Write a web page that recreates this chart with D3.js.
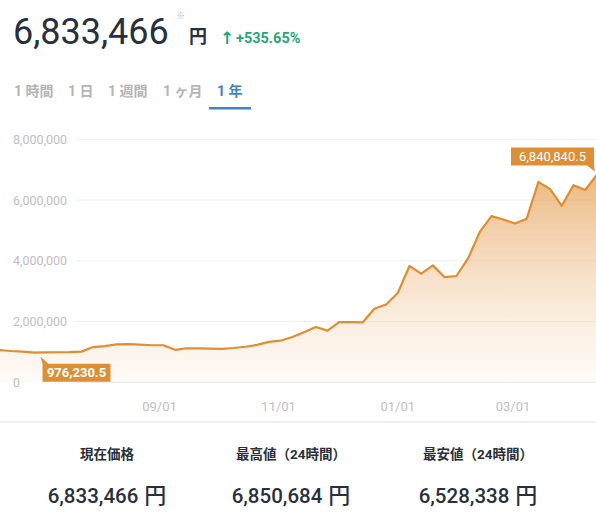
<!DOCTYPE html>
<html>
<head>
<meta charset="utf-8">
<script src="https://cdn.jsdelivr.net/npm/d3@7"></script>
<style>
  body { margin: 0; background: #fff; }
  svg { display: block; font-family: Roboto, "Noto Sans CJK JP", sans-serif; }
</style>
</head>
<body>
<script>
// price series, one point every 6 days
var dates = ["2020-06-11","2020-06-17","2020-06-23","2020-06-29","2020-07-05","2020-07-11","2020-07-17","2020-07-23",
  "2020-07-29","2020-08-04","2020-08-10","2020-08-16","2020-08-22","2020-08-28","2020-09-03","2020-09-09",
  "2020-09-15","2020-09-21","2020-09-27","2020-10-03","2020-10-09","2020-10-15","2020-10-21","2020-10-27",
  "2020-11-02","2020-11-08","2020-11-14","2020-11-20","2020-11-26","2020-12-02","2020-12-08","2020-12-14",
  "2020-12-20","2020-12-26","2021-01-01","2021-01-07","2021-01-13","2021-01-19","2021-01-25","2021-01-31",
  "2021-02-06","2021-02-12","2021-02-18","2021-02-24","2021-03-02","2021-03-08","2021-03-14","2021-03-20",
  "2021-03-26","2021-04-01","2021-04-07","2021-04-13"];
var prices = [1062000,1030000,1010000,976230.5,985000,990000,992000,1010000,
  1160000,1190000,1250000,1260000,1240000,1220000,1220000,1070000,
  1120000,1120000,1110000,1100000,1130000,1170000,1230000,1330000,
  1370000,1490000,1650000,1820000,1700000,1980000,1980000,1970000,
  2420000,2560000,2940000,3830000,3580000,3850000,3460000,3500000,
  4080000,4950000,5470000,5360000,5230000,5380000,6600000,6360000,
  5810000,6490000,6330000,6840840.5];

var yTicks = [0, 2000000, 4000000, 6000000, 8000000];
var xTickDates = ["2020-09-01","2020-11-01","2021-01-01","2021-03-01"];
var xTickLabels = ["09/01","11/01","01/01","03/01"];

var tabs = ["1 時間","1 日","1 週間","1 ヶ月","1 年"];
var statLabels = ["現在価格","最高値（24時間）","最安値（24時間）"];
var statValues = ["6,833,466","6,850,684","6,528,338"];

var parse = d3.timeParse("%Y-%m-%d");
var data = dates.map(function(d, i){ return {date: parse(d), value: prices[i]}; });

var width = 596, height = 513;
var svg = d3.select("body").append("svg").attr("width", width).attr("height", height);

// header
svg.append("text").attr("x", 13).attr("y", 44).attr("font-size", 36)
  .attr("fill", "#27303d").text("6,833,466");
svg.append("text").attr("x", 176).attr("y", 19).attr("font-size", 9)
  .attr("fill", "#a9bccd").text("※");
svg.append("text").attr("x", 189).attr("y", 43).attr("font-size", 18).attr("font-weight", 700)
  .attr("fill", "#27303d").text("円");
svg.append("text").attr("x", 220).attr("y", 44).attr("font-size", 17).attr("font-weight", 700)
  .attr("font-family", "DejaVu Sans").attr("fill", "#1fa776").text("↑");
svg.append("text").attr("x", 236).attr("y", 43).attr("font-size", 14.5).attr("font-weight", 700)
  .attr("fill", "#1fa776").text("+535.65%");

// period tabs
var tabX = [14, 68, 108, 163, 217];
svg.append("g").selectAll("text").data(tabs).enter().append("text")
  .attr("x", function(d, i){ return tabX[i]; })
  .attr("y", 96)
  .attr("font-size", 14)
  .attr("font-weight", 700)
  .attr("fill", function(d, i){ return i == 4 ? "#3c85c9" : "#b4b4b4"; })
  .text(function(d){ return d; });
svg.append("rect").attr("x", 209).attr("y", 107).attr("width", 42).attr("height", 2.5).attr("fill", "#3c85c9");

// scales
var x = d3.scaleTime()
  .domain([parse("2020-09-01"), parse("2021-03-01")])
  .range([159.5, 513]);
var y = d3.scaleLinear().domain([0, 8000000]).range([382.3, 139.3]);

// grid + y labels
var grid = svg.append("g");
grid.selectAll("line").data(yTicks).enter().append("line")
  .attr("x1", 76).attr("x2", width)
  .attr("y1", function(d){ return y(d); }).attr("y2", function(d){ return y(d); })
  .attr("stroke", function(d){ return d == 0 ? "#e6e6e6" : "#efefef"; })
  .attr("stroke-width", 1);
grid.selectAll("text").data(yTicks).enter().append("text")
  .attr("x", 13)
  .attr("y", function(d){ return y(d) + 4.5; })
  .attr("font-size", 12.5)
  .attr("fill", "#c2bec2")
  .text(function(d){ return d3.format(",")(d); });

// x labels
svg.append("g").selectAll("text").data(xTickDates).enter().append("text")
  .attr("x", function(d){ return x(parse(d)); })
  .attr("y", 411)
  .attr("text-anchor", "middle")
  .attr("font-size", 13)
  .attr("fill", "#c2bec2")
  .text(function(d, i){ return xTickLabels[i]; });

// gradient
var defs = svg.append("defs");
var grad = defs.append("linearGradient").attr("id", "fillGrad")
  .attr("gradientUnits", "userSpaceOnUse")
  .attr("x1", 0).attr("x2", 0).attr("y1", y(6840840)).attr("y2", y(0));
grad.append("stop").attr("offset", "0%").attr("stop-color", "#df8d32").attr("stop-opacity", 0.62);
grad.append("stop").attr("offset", "100%").attr("stop-color", "#f2c89c").attr("stop-opacity", 0.08);
defs.append("clipPath").attr("id", "plotClip").append("rect")
  .attr("x", 0).attr("y", 0).attr("width", width).attr("height", y(0));

var plot = svg.append("g").attr("clip-path", "url(#plotClip)");
plot.append("path").datum(data)
  .attr("fill", "url(#fillGrad)")
  .attr("d", d3.area().x(function(d){ return x(d.date); }).y0(y(0)).y1(function(d){ return y(d.value); }));
plot.append("path").datum(data)
  .attr("fill", "none")
  .attr("stroke", "#e08e30")
  .attr("stroke-width", 2.2)
  .attr("stroke-linejoin", "round")
  .attr("d", d3.line().x(function(d){ return x(d.date); }).y(function(d){ return y(d.value); }));

// callouts
var fmt = d3.format(",.1f");
var last = data[data.length - 1];
var minPt = data[d3.minIndex(data, function(d){ return d.value; })];

var lx = x(last.date), ly = y(last.value);
var bw = 83, bh = 18, br = lx - 3, bt = ly - 27;
svg.append("path").attr("fill", "#df8f33")
  .attr("d", "M" + (br - bw) + "," + bt + "h" + bw + "v" + bh + "l1,6" + "l-8,-6" + "h" + (-(bw - 7)) + "z");
svg.append("text").attr("x", br - bw / 2).attr("y", bt + 13.5).attr("text-anchor", "middle")
  .attr("font-size", 13).attr("fill", "#fff").text(fmt(last.value));

var mx = x(minPt.date), my = y(minPt.value);
var mw = 68, mh = 18, ml = mx + 8, mt = my + 11;
svg.append("path").attr("fill", "#df8f33")
  .attr("d", "M" + ml + "," + mt + "l-2,-7" + "l8,7" + "h" + (mw - 6) + "v" + mh + "h" + (-mw) + "z");
svg.append("text").attr("x", ml + mw / 2).attr("y", mt + 13.5).attr("text-anchor", "middle")
  .attr("font-size", 13).attr("font-weight", 700).attr("fill", "#fff").text(fmt(minPt.value));

// bottom stats
svg.append("rect").attr("x", 0).attr("y", 421).attr("width", width).attr("height", 2).attr("fill", "#efefef");
var colX = [107, 291, 478];
var stats = svg.append("g");
stats.selectAll("text.lbl").data(statLabels).enter().append("text").attr("class", "lbl")
  .attr("x", function(d, i){ return colX[i]; })
  .attr("y", 459)
  .attr("text-anchor", "middle")
  .attr("font-size", 13.5)
  .attr("font-weight", 700)
  .attr("fill", "#2a2f38")
  .text(function(d){ return d; });
var vals = stats.selectAll("text.val").data(statValues).enter().append("text").attr("class", "val")
  .attr("x", function(d, i){ return colX[i]; })
  .attr("y", 503)
  .attr("text-anchor", "middle")
  .attr("font-size", 20.5)
  .attr("font-weight", 500)
  .attr("fill", "#27303d");
vals.append("tspan").text(function(d){ return d; });
vals.append("tspan").attr("dx", 6).attr("font-size", 22).text("円");
</script>
</body>
</html>
